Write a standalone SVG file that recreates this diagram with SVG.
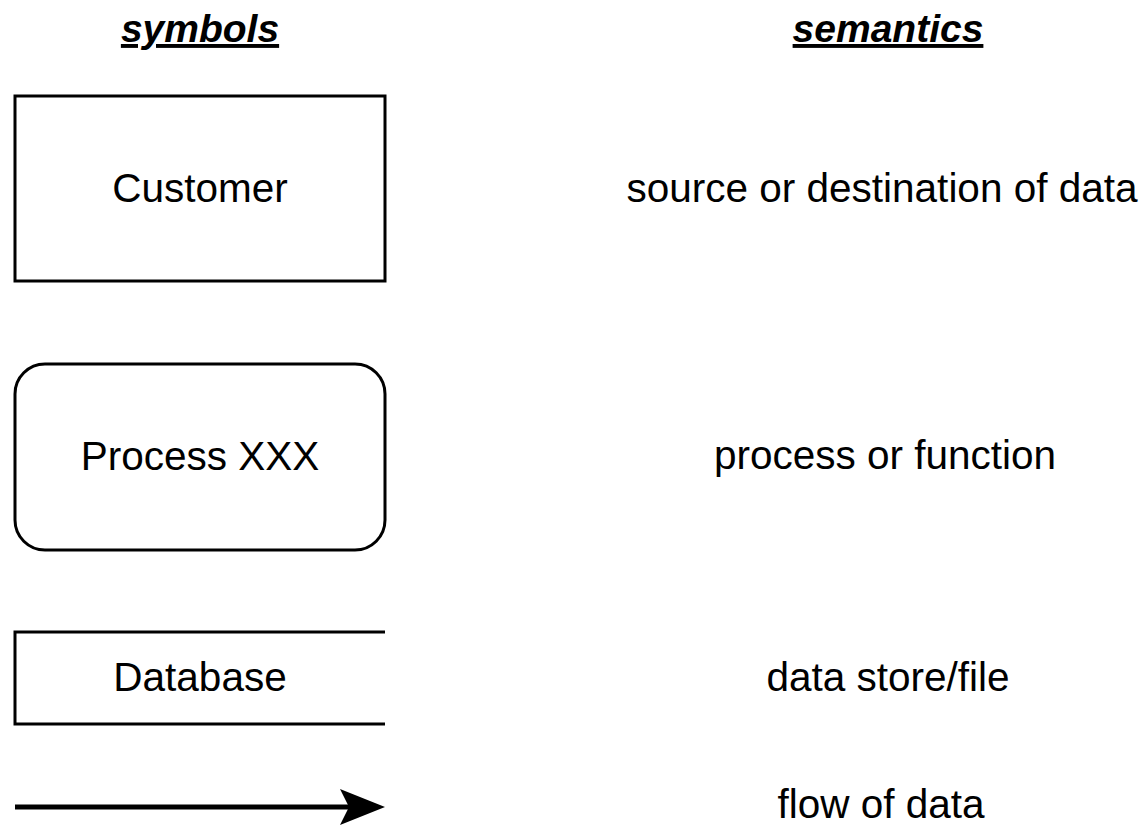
<svg xmlns="http://www.w3.org/2000/svg" width="1147" height="825" viewBox="0 0 1147 825">
  <style>
    .head { font-family: "Liberation Sans", Arial, sans-serif; font-size: 39px; font-weight: bold; font-style: italic; text-decoration: underline; text-anchor: middle; fill: #000; }
    .label { font-family: "Liberation Sans", Arial, sans-serif; font-size: 40.5px; text-anchor: middle; fill: #000; }
    .shape { fill: #fff; stroke: #000; stroke-width: 3; }
    .flow { fill: none; stroke: #000; stroke-width: 5; }
  </style>
  <defs>
    <marker id="arrowhead" markerUnits="userSpaceOnUse" viewBox="0 0 45 36" refX="10" refY="18" markerWidth="45" markerHeight="36" orient="auto">
      <path d="M0,0 L45,18 L0,36 L9,18 Z" fill="#000"/>
    </marker>
  </defs>
  <rect width="1147" height="825" fill="#fff"/>

  <!-- column headings -->
  <g id="headings">
    <text class="head" x="200" y="42">symbols</text>
    <text class="head" x="888" y="42">semantics</text>
  </g>

  <!-- external entity -->
  <g id="customer">
    <rect class="shape" x="15" y="96" width="370" height="185"/>
    <text class="label" x="200" y="202">Customer</text>
  </g>
  <text class="label" x="882" y="202">source or destination of data</text>

  <!-- process -->
  <g id="process">
    <rect class="shape" x="15" y="364" width="370" height="186" rx="30" ry="30"/>
    <text class="label" x="200" y="470">Process XXX</text>
  </g>
  <text class="label" x="885" y="469">process or function</text>

  <!-- data store: open on the right -->
  <g id="database">
    <path class="shape" d="M385,632 H15 V724 H385"/>
    <text class="label" x="200" y="691">Database</text>
  </g>
  <text class="label" x="888" y="691">data store/file</text>

  <!-- data flow -->
  <g id="connectors">
    <line class="flow" x1="15" y1="807" x2="350" y2="807" marker-end="url(#arrowhead)"/>
  </g>
  <text class="label" x="881" y="818">flow of data</text>
</svg>
